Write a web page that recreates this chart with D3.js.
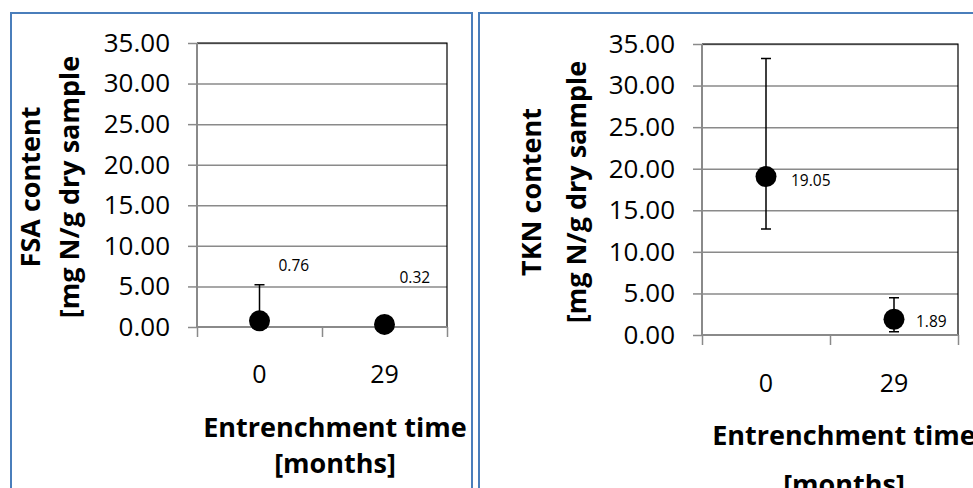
<!DOCTYPE html>
<html><head><meta charset="utf-8">
<script src="https://cdn.jsdelivr.net/npm/d3@7"></script>
<style>
body{margin:0;background:#fff}
svg{display:block}
text{font-family:'Open Sans',sans-serif;fill:#000}
</style>
</head><body><svg id="c" width="973" height="488"></svg>
<script>
// ---- data ----
const categories = ["0", "29"];
const yTickValues = [0, 5, 10, 15, 20, 25, 30, 35];
const fsaValues = [0.76, 0.32];
const fsaErrPlus = [4.45, 0];
const fsaErrMinus = [0, 0];
const tknValues = [19.05, 1.89];
const tknErrPlus = [14.2, 2.6];
const tknErrMinus = [6.3, 1.5];
const fsaTitle = ["FSA content", "[mg N/g dry sample"];
const tknTitle = ["TKN content", "[mg N/g dry sample"];
const xTitle = ["Entrenchment time", "[months]"];

// ---- layout ----
const panels = [
  {values: fsaValues, plus: fsaErrPlus, minus: fsaErrMinus, yTitle: fsaTitle,
   frame: {x: 11, y: 13, w: 461, h: 520},
   plot: {x0: 197, x1: 447, y0: 43, y1: 327},
   yTitleX: [29, 68], yTitleY: 187,
   xTickBaseline: 383, xTitleX: 335, xTitleBase: [437, 473],
   labelOff: [[19, -50], [15, -41]]},
  {values: tknValues, plus: tknErrPlus, minus: tknErrMinus, yTitle: tknTitle,
   frame: {x: 479, y: 13, w: 560, h: 520},
   plot: {x0: 702, x1: 958, y0: 44, y1: 335},
   yTitleX: [530, 575], yTitleY: 192,
   xTickBaseline: 392, xTitleX: 844, xTitleBase: [445, 494],
   labelOff: [[25, 9], [22, 8]]}
];

const svg = d3.select("#c");
const gridCol = "#8a8a8a";

panels.forEach(p => {
  const g = svg.append("g");
  g.append("rect").attr("x", p.frame.x).attr("y", p.frame.y)
    .attr("width", p.frame.w).attr("height", p.frame.h)
    .attr("fill", "#fff").attr("stroke", "#4A7EBB").attr("stroke-width", 2);

  const y = d3.scaleLinear().domain([0, 35]).range([p.plot.y1, p.plot.y0]);
  const xb = d3.scaleBand().domain(categories).range([p.plot.x0, p.plot.x1]);
  const xi = d3.scaleLinear().domain([0, categories.length]).range([p.plot.x0, p.plot.x1]);

  // gridlines
  g.append("g").attr("transform", `translate(${p.plot.x0},0)`)
    .call(d3.axisLeft(y).tickValues(yTickValues.slice(1)).tickSize(-(p.plot.x1 - p.plot.x0)).tickFormat(""))
    .call(a => a.select(".domain").remove())
    .call(a => a.selectAll("line").attr("stroke", gridCol).attr("stroke-width", 1.5));

  // plot border (top/right black)
  g.append("path")
    .attr("d", `M${p.plot.x0},${p.plot.y0}H${p.plot.x1}V${p.plot.y1}`)
    .attr("fill", "none").attr("stroke", "#000").attr("stroke-width", 1.2);

  // y axis
  const ya = g.append("g").attr("transform", `translate(${p.plot.x0},0)`)
    .call(d3.axisLeft(y).tickValues(yTickValues).tickSize(9).tickPadding(18)
      .tickFormat(d3.format(".2f")));
  ya.select(".domain").attr("stroke", gridCol).attr("stroke-width", 2).attr("d", `M0,${p.plot.y0}V${p.plot.y1}`);
  ya.selectAll("line").attr("stroke", gridCol).attr("stroke-width", 1.5);
  ya.selectAll("text").style("font-family", "'Open Sans',sans-serif").style("font-size", "26px").attr("fill", "#000");

  // x axis
  const xa = g.append("g").attr("transform", `translate(0,${p.plot.y1})`)
    .call(d3.axisBottom(xi).tickValues(d3.range(categories.length + 1)).tickSize(10).tickFormat(""));
  xa.select(".domain").attr("stroke", gridCol).attr("stroke-width", 2).attr("d", `M${p.plot.x0},0H${p.plot.x1}`);
  xa.selectAll("line").attr("stroke", gridCol).attr("stroke-width", 1.5);

  g.selectAll(".xlab").data(categories).enter().append("text")
    .attr("x", d => xb(d) + xb.bandwidth() / 2).attr("y", p.xTickBaseline)
    .attr("text-anchor", "middle").style("font-size", "25px").text(d => d);

  // error bars
  const cap = 5;
  categories.forEach((c, i) => {
    const cx = xb(c) + xb.bandwidth() / 2;
    const v = p.values[i];
    if (p.plus[i] > 0) {
      g.append("path").attr("d", `M${cx},${y(v)}V${y(v + p.plus[i])}M${cx - cap},${y(v + p.plus[i])}H${cx + cap}`)
        .attr("stroke", "#000").attr("stroke-width", 1.5).attr("fill", "none");
    }
    if (p.minus[i] > 0) {
      g.append("path").attr("d", `M${cx},${y(v)}V${y(v - p.minus[i])}M${cx - cap},${y(v - p.minus[i])}H${cx + cap}`)
        .attr("stroke", "#000").attr("stroke-width", 1.5).attr("fill", "none");
    }
  });

  // markers
  g.selectAll(".pt").data(p.values).enter().append("circle")
    .attr("cx", (d, i) => xb(categories[i]) + xb.bandwidth() / 2)
    .attr("cy", d => y(d)).attr("r", 10.5).attr("fill", "#000");

  // data labels
  g.selectAll(".dl").data(p.values).enter().append("text")
    .attr("x", (d, i) => xb(categories[i]) + xb.bandwidth() / 2 + p.labelOff[i][0])
    .attr("y", (d, i) => y(d) + p.labelOff[i][1])
    .style("font-size", "15.5px").text(d => d3.format(".2f")(d));

  // y title
  p.yTitle.forEach((t, k) => {
    g.append("text").attr("transform", `translate(${p.yTitleX[k]},${p.yTitleY}) rotate(-90)`)
      .attr("text-anchor", "middle").attr("dominant-baseline", "central")
      .style("font-size", "27px").style("font-weight", "bold").text(t);
  });

  // x title
  xTitle.forEach((t, k) => {
    g.append("text").attr("x", p.xTitleX).attr("y", p.xTitleBase[k])
      .attr("text-anchor", "middle").style("font-size", "27px").style("font-weight", "bold").text(t);
  });
});
</script>
</body></html>
